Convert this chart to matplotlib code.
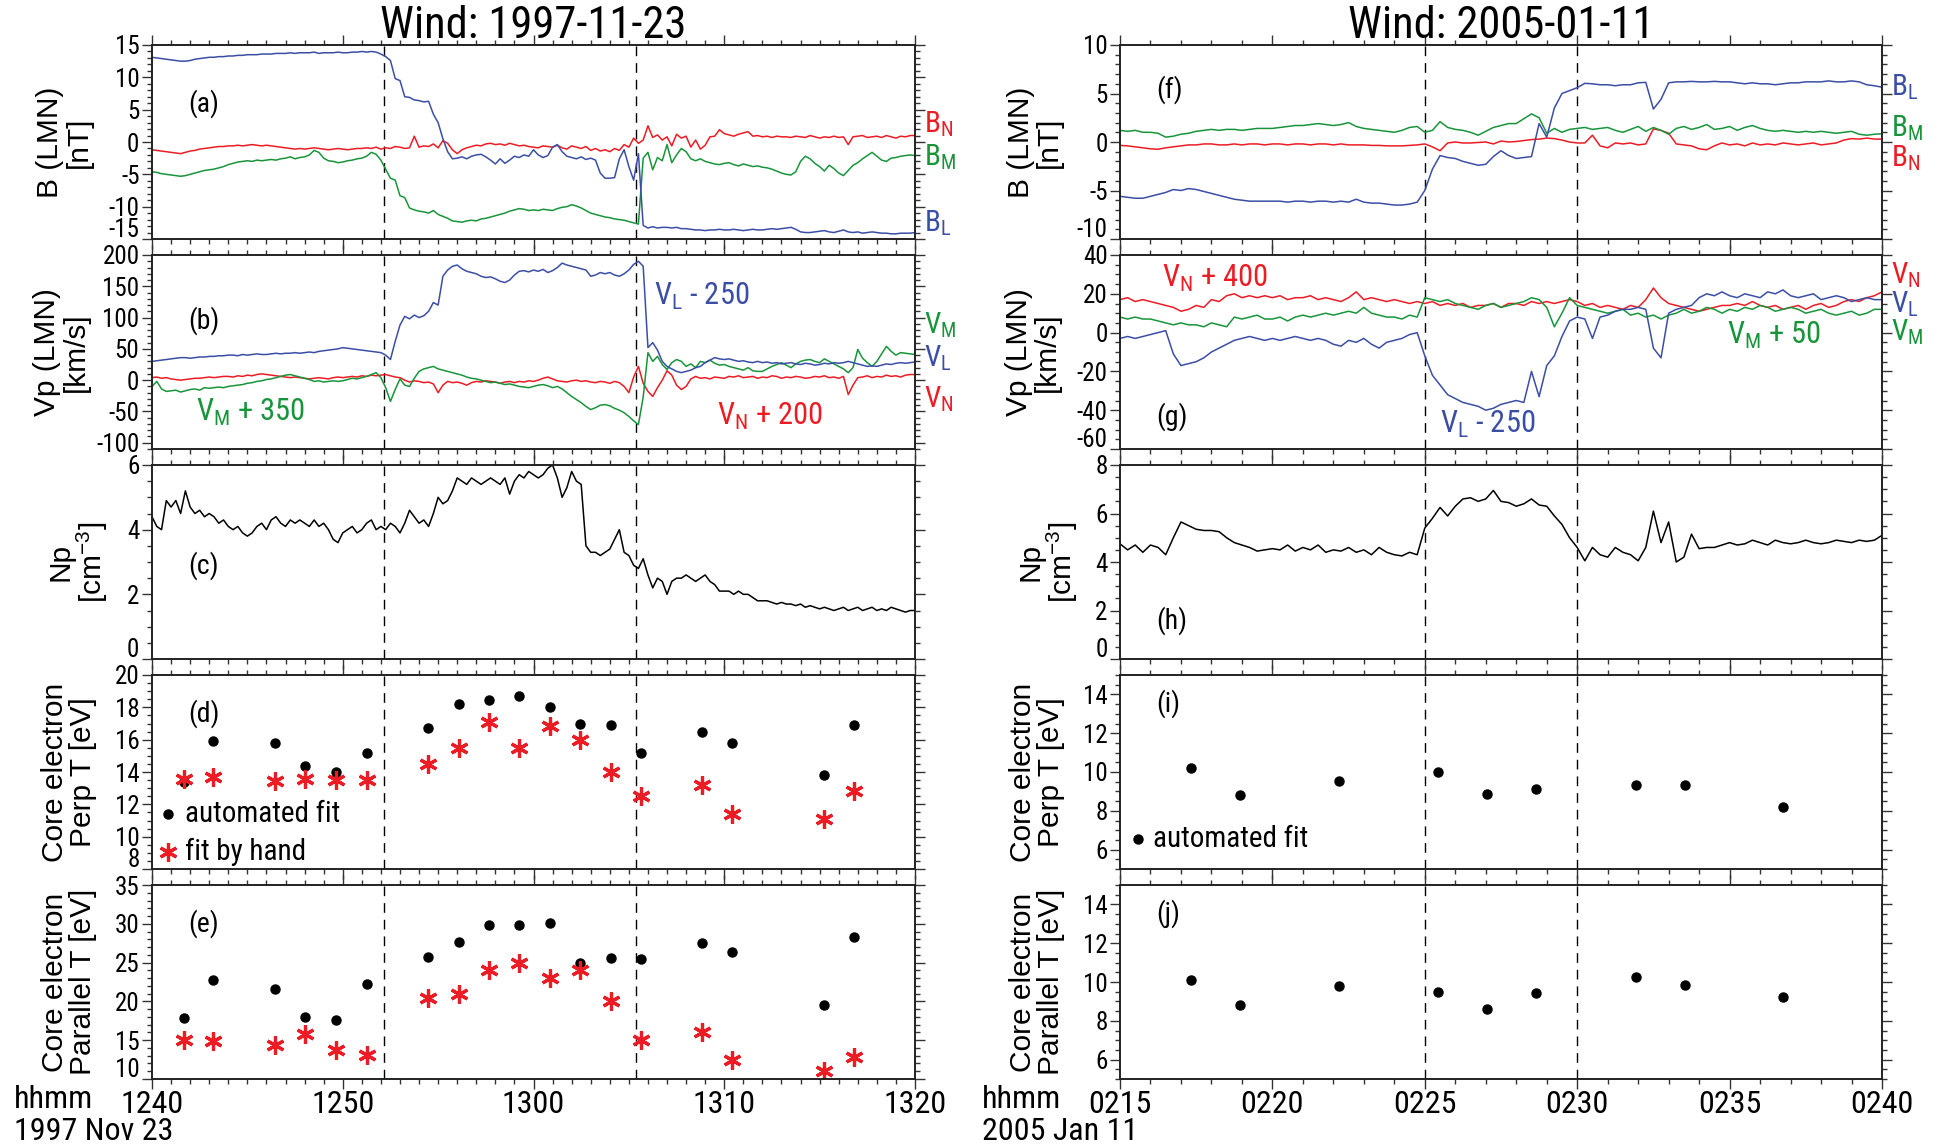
import numpy as np
import matplotlib
matplotlib.use("Agg")
import matplotlib.pyplot as plt
from matplotlib import font_manager as fm
from matplotlib import transforms as mtrans
from matplotlib.ticker import MultipleLocator, FuncFormatter


def _pick(names):
    for n in names:
        try:
            fm.findfont(fm.FontProperties(family=n), fallback_to_default=False)
            return n
        except Exception:
            pass
    return "DejaVu Sans"


NARROW = _pick(["Liberation Sans Narrow", "Roboto Condensed", "Open Sans Condensed", "Liberation Sans"])
WIDE = _pick(["Liberation Sans", "Arial", "DejaVu Sans"])
plt.rcParams.update({"font.family": NARROW, "axes.unicode_minus": False})

BLUE, GREEN, RED = "#3b4ea6", "#18953b", "#ec1c24"

# ── 1997-11-23 event (minutes after 12:40, 15-s samples) ────────────────────────
START1 = 12 * 60 + 40
T1 = np.arange(161) * 0.25
EDGES1 = [12.17, 25.35]

BL1 = [13.1, 13.0, 12.9, 12.8, 12.7, 12.6, 12.5, 12.5, 12.6, 12.8, 12.9, 13.0, 13.1, 13.1, 13.2, 13.2,
       13.3, 13.3, 13.4, 13.4, 13.5, 13.5, 13.5, 13.6, 13.6, 13.6, 13.7, 13.7, 13.7, 13.8, 13.7, 13.8,
       13.8, 13.8, 13.9, 13.7, 13.8, 13.8, 13.8, 13.9, 13.8, 13.8, 13.9, 13.9, 14.0, 13.9, 14.0, 13.9,
       13.6, 13.2, 12.6, 9.8, 9.5, 7.0, 6.9, 6.5, 6.4, 6.2, 6.3, 4.3, 3.0, 0.5, -1.5, -2.6,
       -2.5, -2.3, -2.6, -2.2, -2.0, -1.9, -2.3, -2.8, -3.4, -2.6, -3.3, -2.8, -2.2, -2.4, -2.0, -2.2,
       -1.2, -2.0, -2.4, -2.1, -0.8, -0.4, -1.5, -2.2, -2.4, -2.6, -2.3, -2.7, -2.5, -2.8, -4.8, -5.6,
       -5.6, -5.5, -2.6, -1.2, -3.8, -5.9, -1.8, -12.9, -13.3, -13.1, -13.3, -13.2, -13.2, -13.3, -13.2, -13.4,
       -13.4, -13.5, -13.6, -13.6, -13.7, -13.6, -13.6, -13.5, -13.6, -13.6, -13.5, -13.6, -13.7, -13.6, -13.5, -13.6,
       -13.6, -13.5, -13.4, -13.5, -13.4, -13.3, -13.2, -13.5, -13.9, -14.0, -14.0, -13.9, -13.8, -13.7, -13.9, -14.0,
       -13.8, -13.6, -13.9, -14.0, -13.9, -14.1, -14.0, -13.9, -14.0, -14.1, -14.1, -14.2, -14.2, -14.1, -14.1, -14.1,
       -14.0]
BM1 = [-4.6, -4.7, -4.9, -5.0, -5.1, -5.2, -5.3, -5.2, -5.0, -4.8, -4.6, -4.4, -4.3, -4.2, -4.0, -3.8,
       -3.5, -3.3, -3.1, -3.0, -2.9, -3.0, -2.8, -2.9, -2.8, -2.7, -2.8, -2.6, -2.5, -2.3, -2.6, -2.4,
       -2.3, -2.0, -1.3, -1.6, -2.5, -2.9, -3.0, -3.2, -3.1, -2.9, -2.8, -2.6, -2.5, -2.2, -1.6, -1.9,
       -2.8, -4.2, -5.6, -5.9, -8.3, -8.6, -10.2, -10.5, -10.7, -10.8, -11.0, -10.6, -11.2, -11.5, -11.8, -12.2,
       -12.3, -12.4, -12.2, -12.1, -12.2, -11.9, -11.8, -11.6, -11.4, -11.2, -11.0, -10.7, -10.5, -10.3, -10.4, -10.6,
       -10.5, -10.6, -10.4, -10.5, -10.6, -10.3, -10.1, -10.0, -9.7, -9.9, -10.2, -10.6, -11.0, -11.2, -11.4, -11.6,
       -11.7, -11.9, -12.0, -12.1, -12.3, -12.5, -12.7, -2.5, -1.6, -4.3, -2.4, -2.9, -0.4, -3.2, -2.0, -1.0,
       -1.5, -2.6, -2.9, -2.6, -3.0, -3.2, -3.4, -3.5, -3.3, -3.2, -3.5, -3.7, -3.4, -3.6, -3.8, -3.7,
       -3.9, -4.0, -4.2, -4.5, -4.8, -5.0, -5.1, -4.6, -3.0, -2.2, -2.6, -3.3, -3.8, -4.5, -3.6, -4.1,
       -4.8, -5.2, -4.4, -3.6, -3.2, -2.6, -2.1, -1.6, -2.2, -2.8, -3.0, -2.5, -2.4, -2.2, -2.1, -2.0,
       -2.1]
BN1 = [-1.2, -1.3, -1.4, -1.5, -1.6, -1.7, -1.8, -1.6, -1.4, -1.3, -1.1, -1.0, -0.9, -0.8, -0.7, -0.7,
       -0.6, -0.6, -0.5, -0.6, -0.5, -0.4, -0.5, -0.6, -0.5, -0.6, -0.7, -0.8, -0.9, -1.0, -1.1, -1.0,
       -1.1, -1.0, -0.9, -1.0, -1.1, -1.2, -1.1, -1.0, -1.1, -1.2, -1.1, -1.0, -1.0, -0.9, -1.0, -0.8,
       -1.1, -0.9, -1.0, -0.7, -0.8, -1.0, -0.9, 0.9, -0.8, -0.6, -0.7, -0.3, -0.9, 0.2, -0.2, -1.2,
       -1.8, -1.2, -0.9, -0.7, -0.5, -0.6, -0.3, -0.2, -0.4, -0.3, -0.5, -0.2, -0.4, -0.6, -0.5, -0.7,
       -0.8, -0.9, -0.6, -0.7, -0.8, -0.5, -0.9, -1.1, -0.6, -0.8, -1.0, -0.7, -1.3, -1.0, -1.4, -1.2,
       -1.5, -1.0, -1.3, -0.4, -0.8, 0.6, -0.2, 0.3, 2.5, 0.7, 1.1, 0.3, 0.8, -0.6, 1.2, 0.6,
       0.9, -0.8, 0.3, -1.1, -0.5, 0.8, 0.9, 1.9, 1.3, 1.1, 0.9, 1.2, 1.4, 1.6, 0.9, 1.0,
       0.8, 0.9, 0.7, 0.9, 0.8, 0.8, 0.7, 0.9, 0.8, 0.7, 1.0, 0.8, 0.6, 0.8, 0.7, 0.9,
       0.7, 0.8, -0.4, 0.8, 0.9, 1.0, 0.7, 0.8, 0.9, 0.7, 1.0, 0.8, 0.6, 0.9, 0.8, 1.0,
       1.0]
VL1 = [30, 31, 32, 33, 34, 35, 36, 36, 35, 36, 37, 37, 38, 38, 39, 39,
       40, 40, 39, 41, 40, 41, 42, 41, 41, 42, 43, 42, 43, 43, 44, 43,
       44, 45, 44, 46, 47, 48, 49, 50, 52, 51, 50, 49, 48, 47, 46, 45,
       44, 40, 33, 62, 88, 102, 98, 104, 100, 103, 110, 124, 120, 166, 176, 182,
       184, 178, 174, 172, 170, 166, 164, 165, 162, 158, 156, 160, 168, 174, 175, 173,
       176, 174, 177, 172, 175, 180, 187, 184, 182, 180, 178, 176, 166, 168, 172, 170,
       172, 168, 166, 170, 176, 185, 190, 182, 52, 60, 48, 30, 22, 18, 14, 12,
       14, 16, 20, 22, 28, 32, 36, 34, 33, 34, 32, 30, 31, 29, 28, 30,
       28, 29, 27, 28, 26, 27, 28, 26, 25, 27, 26, 24, 25, 27, 26, 28,
       27, 28, 30, 28, 26, 24, 22, 23, 22, 24, 26, 25, 27, 28, 27, 28,
       29]
VM1 = [-10, -2, -14, -18, -17, -16, -19, -17, -15, -14, -16, -12, -13, -12, -11, -12,
       -10, -9, -8, -7, -5, -4, -2, -1, 1, 2, 4, 6, 8, 9, 7, 5,
       3, 1, -2, -1, -3, -2, -1, -2, -1, 1, 3, 2, 4, 6, 9, 12,
       4, -12, -34, -15, 2, -8, -10, 3, 14, 18, 20, 22, 18, 16, 14, 12,
       10, 8, 5, 3, 2, 0, -2, -4, -3, -5, -7, -6, -8, -10, -11, -12,
       -10, -8, -7, -9, -12, -10, -14, -20, -26, -31, -36, -42, -47, -44, -40, -39,
       -41, -45, -48, -52, -58, -65, -71, -27, 44, 30, 38, 25, 17, 28, 33, 30,
       22, 26, 20, 30, 28, 32, 27, 24, 25, 22, 20, 18, 16, 20, 15, 14,
       14, 18, 22, 25, 28, 24, 20, 26, 30, 32, 33, 30, 28, 34, 30, 26,
       22, 18, 12, 20, 49, 35, 28, 22, 30, 42, 54, 46, 40, 44, 43, 42,
       41]
VN1 = [4, 5, 3, 4, 2, 1, 0, 1, 2, 3, 3, 4, 5, 4, 5, 6,
       6, 5, 7, 6, 8, 7, 9, 10, 9, 8, 7, 6, 5, 4, 5, 4,
       3, 2, 3, 4, 3, 2, 4, 5, 4, 5, 6, 5, 7, 6, 8, 7,
       8, 9, 7, 5, 4, 0, -3, -1, -2, -4, -3, -6, -20, -8, -2, -4,
       -3, -5, -8, -4, -2, -3, -1, -2, -3, -5, -3, -2, -4, -2, -3, -1,
       -2, 0, 3, 5, 2, -1, -2, -3, -1, 0, -2, -1, -3, -4, -2, -3,
       -5, -2, -4, -10, -20, 5, 22, -5, -18, -26, -12, 0, 15, 8, -8, -15,
       -10, 2, 6, 3, 4, 2, 5, 4, 3, 6, 5, 7, 4, 5, 6, 3,
       5, 4, 7, 6, 3, 5, 4, 6, 5, 3, 4, 6, 5, 7, 4, 5,
       3, 6, -23, -8, 4, 5, 7, 4, 6, 5, 8, 6, 7, 5, 8, 9,
       9]
NP1 = [4.4, 4.1, 4.0, 4.9, 4.7, 4.9, 4.5, 5.2, 4.7, 4.5, 4.6, 4.4, 4.5, 4.4, 4.2, 4.3,
       4.1, 4.0, 4.1, 3.9, 3.8, 3.9, 4.1, 4.2, 4.0, 4.3, 4.4, 4.2, 4.1, 4.3, 4.2, 4.3,
       4.2, 4.1, 4.3, 4.1, 4.2, 4.0, 3.7, 3.6, 3.9, 4.0, 4.1, 3.9, 4.0, 4.2, 4.3, 4.0,
       4.1, 4.0, 4.2, 4.1, 3.9, 4.2, 4.6, 4.4, 4.2, 4.3, 4.1, 4.5, 5.0, 4.8, 4.9, 5.2,
       5.6, 5.5, 5.4, 5.6, 5.5, 5.4, 5.5, 5.6, 5.5, 5.4, 5.6, 5.1, 5.5, 5.7, 5.6, 5.8,
       5.7, 5.6, 5.7, 5.9, 6.0, 5.6, 5.0, 5.3, 5.8, 5.5, 5.4, 3.5, 3.3, 3.3, 3.2, 3.3,
       3.4, 3.7, 4.0, 3.3, 3.2, 2.9, 2.8, 3.1, 2.6, 2.2, 2.5, 2.4, 2.0, 2.4, 2.5, 2.5,
       2.6, 2.5, 2.4, 2.5, 2.6, 2.4, 2.3, 2.1, 2.1, 2.1, 2.0, 2.1, 2.0, 2.0, 1.9, 1.8,
       1.8, 1.8, 1.75, 1.7, 1.75, 1.7, 1.7, 1.65, 1.7, 1.6, 1.65, 1.6, 1.55, 1.6, 1.55, 1.5,
       1.55, 1.6, 1.5, 1.55, 1.6, 1.5, 1.55, 1.6, 1.5, 1.55, 1.5, 1.6, 1.55, 1.5, 1.45, 1.5,
       1.5]

T_FIT1 = [1.67, 3.2, 6.46, 8.04, 9.65, 11.25, 14.47, 16.08, 17.65, 19.26, 20.84, 22.44,
          24.05, 25.66, 28.84, 30.42, 35.24, 36.82]
PERP_AUTO1 = [13.4, 15.9, 15.8, 14.4, 14.0, 15.2, 16.7, 18.2, 18.45, 18.7, 18.0, 17.0,
              16.9, 15.2, 16.5, 15.8, 13.8, 16.9]
PERP_HAND1 = [13.55, 13.7, 13.45, 13.55, 13.5, 13.5, 14.5, 15.5, 17.1, 15.5, 16.85, 16.0,
              14.0, 12.5, 13.2, 11.4, 11.1, 12.8]
PAR_AUTO1 = [17.9, 22.7, 21.6, 18.0, 17.6, 22.3, 25.7, 27.6, 29.85, 29.8, 30.1, 24.9,
             25.6, 25.4, 27.5, 26.4, 19.6, 28.3]
PAR_HAND1 = [15.0, 14.9, 14.4, 15.8, 13.75, 13.1, 20.45, 21.0, 24.05, 24.9, 23.0, 24.05,
             20.1, 15.0, 16.0, 12.4, 11.05, 12.8]

# ── 2005-01-11 event (minutes after 02:15) ─────────────────────────────────────
START2 = 2 * 60 + 15
T2 = np.arange(101) * 0.25
EDGES2 = [10.0, 15.0]

BL2 = [-5.6, -5.7, -5.8, -5.8, -5.6, -5.4, -5.2, -4.9, -5.0, -4.8, -4.9, -5.1, -5.3, -5.5, -5.7, -5.9, -6.0, -6.1, -6.1, -6.1,
       -6.1, -6.1, -6.2, -6.1, -6.1, -6.2, -6.1, -6.1, -6.2, -6.1, -6.2, -5.9, -6.2, -6.3, -6.3, -6.4, -6.5, -6.5, -6.4, -6.2,
       -5.0, -2.8, -1.4, -1.6, -1.7, -2.0, -2.2, -2.4, -2.3, -1.5, -0.9, -1.4, -1.7, -1.6, -1.5, 1.9, 0.5, 3.5, 5.0, 5.3,
       5.6, 6.05, 6.0, 5.9, 5.9, 5.8, 5.9, 5.9, 6.1, 6.15, 3.4, 4.4, 6.1, 6.2, 6.2, 6.25, 6.2, 6.2, 6.25, 6.2,
       6.2, 6.1, 6.0, 6.1, 6.0, 6.0, 5.9, 6.0, 6.1, 6.1, 6.2, 6.2, 6.2, 6.3, 6.2, 6.2, 6.3, 6.2, 5.9, 5.8,
       5.65]
BM2 = [1.2, 1.1, 1.2, 1.0, 1.0, 0.9, 0.5, 0.6, 0.8, 0.9, 1.1, 1.2, 1.3, 1.2, 1.3, 1.3, 1.2, 1.3, 1.4, 1.4,
       1.4, 1.5, 1.6, 1.7, 1.7, 1.8, 1.9, 1.8, 1.7, 1.8, 2.0, 1.6, 1.4, 1.3, 1.2, 1.1, 1.0, 1.2, 1.5, 1.6,
       1.0, 1.2, 2.1, 1.5, 1.3, 1.2, 1.0, 0.7, 1.1, 1.5, 1.7, 1.9, 1.9, 2.4, 2.9, 2.5, 0.9, 1.4, 1.0, 1.3,
       1.4, 1.5, 1.3, 1.4, 1.5, 1.2, 1.0, 1.3, 1.6, 1.1, 1.5, 1.2, 0.8, 1.4, 1.6, 1.3, 1.5, 1.8, 1.3, 1.4,
       1.6, 1.2, 1.5, 1.7, 1.4, 1.2, 1.1, 1.2, 1.1, 1.0, 1.1, 1.0, 1.1, 1.0, 0.9, 1.0, 1.1, 0.8, 0.7, 0.8,
       0.85]
BN2 = [-0.35, -0.4, -0.5, -0.6, -0.7, -0.75, -0.6, -0.5, -0.4, -0.3, -0.3, -0.2, -0.2, -0.3, -0.3, -0.2, -0.3, -0.2, -0.2, -0.3,
       -0.2, -0.2, -0.3, -0.2, -0.2, -0.3, -0.2, -0.2, -0.3, -0.2, -0.3, -0.3, -0.3, -0.35, -0.35, -0.4, -0.4, -0.4, -0.35, -0.3,
       -0.2, -0.5, -0.9, -0.1, 0.0, -0.1, -0.1, -0.05, 0.0, -0.2, 0.1, 0.0, 0.05, 0.15, 0.25, 0.3, 0.4, 0.35, 0.2, 0.0,
       -0.1, -0.1, 0.7, -0.4, -0.6, -0.1, -0.2, -0.1, -0.3, -0.2, 1.35, 1.2, 0.9, -0.2, -0.3, -0.4, -0.7, -0.8, -0.4, -0.1,
       -0.3, -0.2, -0.4, -0.1, -0.3, -0.2, -0.3, -0.1, -0.2, -0.3, -0.2, -0.1, -0.3, -0.2, -0.1, 0.2, 0.35, 0.3, 0.4, 0.3,
       0.3]
VN2 = [17, 18, 16, 17, 16, 15, 14, 13, 11, 12, 14, 13, 17, 16, 19, 20, 18, 19, 18, 19,
       18, 19, 17, 18, 18, 19, 17, 18, 17, 16, 18, 21, 17, 18, 17, 16, 17, 16, 15, 16,
       15, 16, 14, 15, 14, 15, 13, 14, 14, 15, 13, 15, 15, 14, 16, 15, 16, 15, 16, 17,
       16, 14, 15, 13, 14, 13, 12, 14, 13, 17, 23, 18, 15, 14, 13, 12, 11, 12, 13, 14,
       14, 15, 14, 16, 14, 13, 14, 12, 13, 14, 12, 14, 15, 13, 14, 16, 17, 16, 18, 19,
       21]
VM2 = [8, 7, 8, 7, 7, 6, 5, 4, 5, 4, 4, 3, 5, 4, 3, 8, 7, 8, 9, 7,
       7, 8, 6, 8, 9, 8, 9, 10, 9, 10, 11, 10, 13, 10, 9, 8, 8, 7, 9, 8,
       18, 17, 16, 17, 15, 14, 13, 12, 14, 15, 13, 14, 15, 16, 18, 17, 13, 3, 10, 18,
       14, 13, 12, 11, 10, 11, 12, 9, 10, 8, 9, 7, 9, 10, 12, 10, 11, 13, 12, 10,
       12, 11, 13, 12, 14, 13, 11, 12, 13, 12, 10, 11, 12, 10, 9, 10, 11, 9, 10, 12,
       12]
VL2 = [-3, -2, -3, -2, -1, 0, 1, -11, -17, -16, -15, -13, -10, -8, -6, -4, -3, -2, -3, -4,
       -3, -4, -3, -2, -3, -4, -3, -4, -6, -7, -4, -5, -3, -6, -8, -5, -4, -3, -1, 0,
       -12, -22, -27, -32, -34, -36, -37, -38, -40, -39, -37, -36, -35, -36, -20, -33, -17, -12, -2, 6,
       8, 7, -3, 8, 9, 11, 12, 12, 13, 12, -8, -13, 10, 12, 13, 14, 18, 20, 19, 21,
       19, 18, 20, 19, 18, 21, 20, 22, 19, 18, 19, 20, 17, 18, 19, 18, 16, 17, 18, 17,
       17]
NP2 = [4.75, 4.5, 4.7, 4.4, 4.7, 4.6, 4.3, 5.0, 5.65, 5.5, 5.35, 5.3, 5.3, 5.25, 5.0, 4.8, 4.7, 4.6, 4.45, 4.5,
       4.55, 4.5, 4.7, 4.45, 4.6, 4.5, 4.7, 4.4, 4.5, 4.45, 4.6, 4.4, 4.5, 4.3, 4.6, 4.4, 4.3, 4.25, 4.4, 4.3,
       5.4, 5.8, 6.25, 5.9, 6.3, 6.6, 6.65, 6.5, 6.6, 6.95, 6.5, 6.45, 6.3, 6.4, 6.6, 6.35, 6.3, 5.9, 5.55, 5.0,
       4.6, 4.05, 4.6, 4.3, 4.2, 4.6, 4.4, 4.3, 4.05, 4.6, 6.1, 4.8, 5.65, 4.0, 4.2, 5.15, 4.55, 4.6, 4.6, 4.7,
       4.8, 4.7, 4.75, 4.9, 4.8, 4.7, 4.9, 4.8, 4.75, 4.8, 4.9, 4.8, 4.75, 4.8, 4.9, 4.85, 4.8, 4.9, 4.85, 4.9,
       5.1]

T_FIT2 = [2.32, 3.93, 7.19, 10.42, 12.05, 13.66, 16.92, 18.53, 21.76]
PERP2 = [10.22, 8.82, 9.52, 10.0, 8.87, 9.13, 9.35, 9.35, 8.2]
PAR2 = [10.1, 8.83, 9.78, 9.49, 8.6, 9.42, 10.27, 9.85, 9.21]

# ── layout (pixel boxes of the reference) ───────────────────────────────────────
fig = plt.figure(figsize=(19.42, 11.44), dpi=100)
TOPS, PH = [45, 255, 465, 675, 885], 194
YTICK_FS, XTICK_FS, LAB_FS, SIDE_FS = 18, 23, 21.5, 21
STAR = dict(marker=(6, 2, 0), color=RED, ms=13, mew=2.3, ls="none")
DOT = dict(marker="o", color="k", ms=6.5, ls="none")


def add_ax(x0, x1, top):
    return fig.add_axes([x0 / 1942, 1 - (top + PH) / 1144, (x1 - x0) / 1942, PH / 1144])


def hhmm(start):
    return FuncFormatter(lambda v, p: "%02d%02d" % divmod(int(round(start + v)), 60))


def setup(ax, xmax, xmaj, start, ylim, ymaj, ymin, edges, bottom):
    ax.set_xlim(0, xmax); ax.set_ylim(*ylim)
    ax.xaxis.set_major_locator(MultipleLocator(xmaj)); ax.xaxis.set_minor_locator(MultipleLocator(1))
    ax.yaxis.set_major_locator(MultipleLocator(ymaj)); ax.yaxis.set_minor_locator(MultipleLocator(ymin))
    ax.xaxis.set_major_formatter(hhmm(start))
    lo = ylim[0]
    # the lowest tick label sits just above the bottom spine, as in the original
    ax.yaxis.set_major_formatter(FuncFormatter(lambda v, p: "" if abs(v - lo) < 1e-9 else "%g" % v))
    if lo % ymaj == 0:
        tr = mtrans.offset_copy(ax.get_yaxis_transform(), fig=fig, x=-9, y=1.5, units="points")
        ax.text(0, lo, "%g" % lo, transform=tr, ha="right", va="baseline", fontsize=YTICK_FS)
    ax.tick_params(which="both", direction="out", top=True, right=True, labelbottom=bottom,
                   width=1.0, color="#333333")
    ax.tick_params(which="major", length=7); ax.tick_params(which="minor", length=3.5)
    ax.tick_params(axis="y", labelsize=YTICK_FS, pad=2); ax.tick_params(axis="x", labelsize=XTICK_FS, pad=1)
    for sp in ax.spines.values():
        sp.set_linewidth(1.4); sp.set_color("#222222")
    for e in edges:
        ax.axvline(e, color="k", lw=1.0, ls=(0, (7, 5)), zorder=1)


def ylab(ax, txt, xpos):
    ax.set_ylabel(txt, fontfamily=WIDE, fontsize=LAB_FS, linespacing=1.0)
    ax.yaxis.set_label_coords(xpos, 0.5)


def letter(ax, s, y):
    ax.text(0.048, y, s, transform=ax.transAxes, fontsize=20, ha="left", va="center")


def side(ax, s, y, c):
    ax.text(1.012, y, s, transform=ax.get_yaxis_transform(), color=c, fontsize=SIDE_FS, ha="left", va="center")


def inline(ax, x, y, s, c):
    ax.text(x, y, s, color=c, fontsize=22, ha="left", va="center")


def title(ax, s):
    b = ax.get_position()
    fig.text((b.x0 + b.x1) / 2, 1 - 38 / 1144, s, fontsize=32, ha="center", va="baseline")


L = [add_ax(152, 915, t) for t in TOPS]
R = [add_ax(1120, 1882, t) for t in TOPS]

# ── left column ─────────────────────────────────────────────────────────────────
ax = L[0]
setup(ax, 40, 10, START1, (-15, 15), 5, 1, EDGES1, False)
ax.plot(T1, BN1, color=RED, lw=1.1); ax.plot(T1, BM1, color=GREEN, lw=1.1); ax.plot(T1, BL1, color=BLUE, lw=1.1)
ylab(ax, "B (LMN)\n[nT]", -0.078); letter(ax, "(a)", 0.70)
side(ax, r"B$_\mathregular{N}$", 2.8, RED); side(ax, r"B$_\mathregular{M}$", -2.3, GREEN)
side(ax, r"B$_\mathregular{L}$", -12.5, BLUE)
title(ax, "Wind: 1997-11-23")

ax = L[1]
setup(ax, 40, 10, START1, (-110, 200), 50, 10, EDGES1, False)
ax.plot(T1, VN1, color=RED, lw=1.1); ax.plot(T1, VM1, color=GREEN, lw=1.1); ax.plot(T1, VL1, color=BLUE, lw=1.1)
ylab(ax, "Vp (LMN)\n[km/s]", -0.082); letter(ax, "(b)", 0.66)
side(ax, r"V$_\mathregular{M}$", 88, GREEN); side(ax, r"V$_\mathregular{L}$", 35, BLUE)
side(ax, r"V$_\mathregular{N}$", -31, RED)
inline(ax, 26.3, 134, r"V$_\mathregular{L}$ - 250", BLUE)
inline(ax, 2.3, -51, r"V$_\mathregular{M}$ + 350", GREEN)
inline(ax, 29.6, -58, r"V$_\mathregular{N}$ + 200", RED)

ax = L[2]
setup(ax, 40, 10, START1, (0, 6), 2, 0.5, EDGES1, False)
ax.plot(T1, NP1, color="k", lw=1.1)
ylab(ax, "Np\n[cm$^{\\mathregular{-3}}$]", -0.055); letter(ax, "(c)", 0.48)

ax = L[3]
setup(ax, 40, 10, START1, (8, 20), 2, 0.5, EDGES1, False)
ax.plot(T_FIT1, PERP_AUTO1, **DOT)
ax.plot(T_FIT1, PERP_HAND1, **STAR)
ylab(ax, "Core electron\nPerp T [eV]", -0.072); letter(ax, "(d)", 0.80)
ax.plot([0.021], [0.283], transform=ax.transAxes, **DOT)
ax.text(0.043, 0.283, "automated fit", transform=ax.transAxes, fontsize=21, va="center")
ax.plot([0.021], [0.09], transform=ax.transAxes, **STAR)
ax.text(0.043, 0.09, "fit by hand", transform=ax.transAxes, fontsize=21, va="center")

ax = L[4]
setup(ax, 40, 10, START1, (10, 35), 5, 1, EDGES1, True)
ax.plot(T_FIT1, PAR_AUTO1, **DOT)
ax.plot(T_FIT1, PAR_HAND1, **STAR)
ylab(ax, "Core electron\nParallel T [eV]", -0.072); letter(ax, "(e)", 0.80)
fig.text(14 / 1942, 1 - 1099 / 1144, "hhmm", fontsize=23, va="center")
fig.text(14 / 1942, 1 - 1132 / 1144, "1997 Nov 23", fontsize=23, va="center")

# ── right column ────────────────────────────────────────────────────────────────
ax = R[0]
setup(ax, 25, 5, START2, (-10, 10), 5, 1, EDGES2, False)
ax.plot(T2, BN2, color=RED, lw=1.1); ax.plot(T2, BM2, color=GREEN, lw=1.1); ax.plot(T2, BL2, color=BLUE, lw=1.1)
ylab(ax, "B (LMN)\n[nT]", -0.075); letter(ax, "(f)", 0.77)
side(ax, r"B$_\mathregular{L}$", 5.7, BLUE); side(ax, r"B$_\mathregular{M}$", 1.4, GREEN)
side(ax, r"B$_\mathregular{N}$", -1.7, RED)
title(ax, "Wind: 2005-01-11")

ax = R[1]
setup(ax, 25, 5, START2, (-60, 40), 20, 5, EDGES2, False)
ax.plot(T2, VN2, color=RED, lw=1.1); ax.plot(T2, VM2, color=GREEN, lw=1.1); ax.plot(T2, VL2, color=BLUE, lw=1.1)
ylab(ax, "Vp (LMN)\n[km/s]", -0.077); letter(ax, "(g)", 0.165)
side(ax, r"V$_\mathregular{N}$", 29.5, RED); side(ax, r"V$_\mathregular{L}$", 14.5, BLUE)
side(ax, r"V$_\mathregular{M}$", 0.5, GREEN)
inline(ax, 1.38, 28, r"V$_\mathregular{N}$ + 400", RED)
inline(ax, 19.9, -1.7, r"V$_\mathregular{M}$ + 50", GREEN)
inline(ax, 10.5, -47.6, r"V$_\mathregular{L}$ - 250", BLUE)

ax = R[2]
setup(ax, 25, 5, START2, (0, 8), 2, 0.5, EDGES2, False)
ax.plot(T2, NP2, color="k", lw=1.1)
ylab(ax, "Np\n[cm$^{\\mathregular{-3}}$]", -0.052); letter(ax, "(h)", 0.20)

ax = R[3]
setup(ax, 25, 5, START2, (5, 15), 2, 0.5, EDGES2, False)
ax.plot(T_FIT2, PERP2, **DOT)
ylab(ax, "Core electron\nPerp T [eV]", -0.072); letter(ax, "(i)", 0.855)
ax.plot([0.024], [0.155], transform=ax.transAxes, **DOT)
ax.text(0.043, 0.155, "automated fit", transform=ax.transAxes, fontsize=21, va="center")

ax = R[4]
setup(ax, 25, 5, START2, (5, 15), 2, 0.5, EDGES2, True)
ax.plot(T_FIT2, PAR2, **DOT)
ylab(ax, "Core electron\nParallel T [eV]", -0.072); letter(ax, "(j)", 0.85)
fig.text(982 / 1942, 1 - 1099 / 1144, "hhmm", fontsize=23, va="center")
fig.text(982 / 1942, 1 - 1132 / 1144, "2005 Jan 11", fontsize=23, va="center")

fig.savefig("out.png", dpi=100, facecolor="white")
